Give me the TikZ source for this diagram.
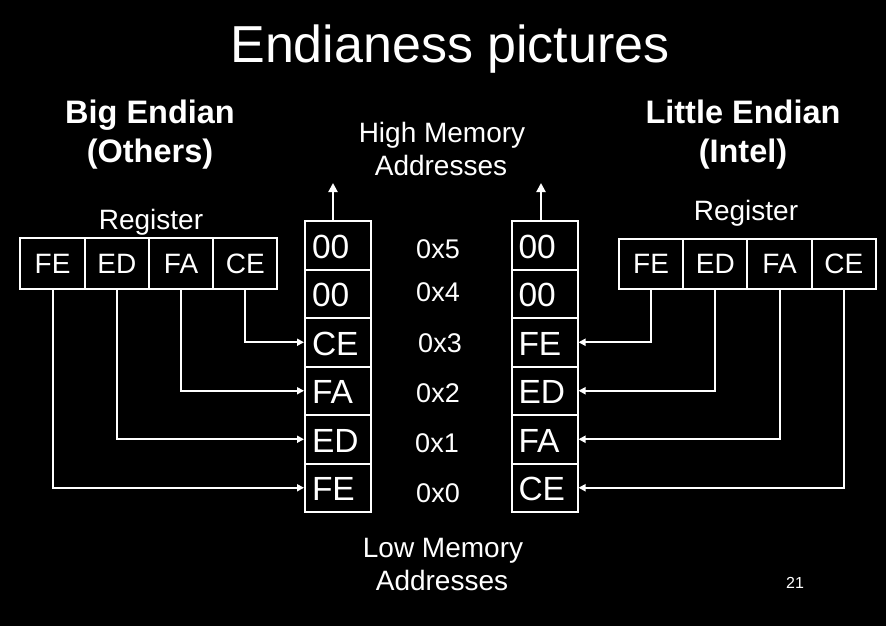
\documentclass[tikz,border=0pt]{standalone}
\usepackage{fontspec}
\setmainfont{Liberation Sans}
\usetikzlibrary{arrows.meta}
\newcommand{\memtxt}[1]{\makebox[52pt][l]{#1}}
\begin{document}
\begin{tikzpicture}[x=1pt,y=-1pt,
  every node/.style={text=white},
  wire/.style={draw=white,line width=2pt,-{Triangle[length=7pt,width=7pt]}},
  upwire/.style={draw=white,line width=2pt,-{Triangle[length=9pt,width=9pt]}},
  memcell/.style={draw=white,line width=2pt,minimum height=48.5pt,inner xsep=7pt,inner ysep=0pt,text height=26pt,text depth=0.5pt,font=\fontsize{33.5}{38}\selectfont},
  regcell/.style={draw=white,line width=2pt,minimum width=64.25pt,minimum height=50.5pt,inner sep=0pt,font=\fontsize{28}{30}\selectfont},
  addr/.style={anchor=base,font=\fontsize{27}{30}\selectfont},
  lbl/.style={anchor=base,font=\fontsize{28}{30}\selectfont},
  head/.style={anchor=base,font=\fontsize{32.5}{36}\selectfont\bfseries}]
\path[fill=black] (0,0) rectangle (886,626);
\useasboundingbox (0,0) rectangle (886,626);

% title
\node[anchor=base,font=\fontsize{52}{60}\selectfont] (title) at (450,63) {Endianess pictures};

% headings
\node[head] (bigA) at (150,123) {Big Endian};
\node[head] (bigB) at (150,162) {(Others)};
\node[head] (litA) at (743,123) {Little Endian};
\node[head] (litB) at (743,162) {(Intel)};

\node[lbl] (highA) at (442,142) {High Memory};
\node[lbl] (highB) at (441,175) {Addresses};
\node[lbl] (lowA) at (443,557) {Low Memory};
\node[lbl] (lowB) at (442,590) {Addresses};

\node[lbl] (regLt) at (151,229) {Register};
\node[lbl] (regRt) at (746,220) {Register};

\node[anchor=base,font=\fontsize{16}{18}\selectfont] (pg) at (795,588) {21};

% left register
\node[regcell] (L1) at (52.6,263.5) {FE};
\node[regcell] (L2) at (116.85,263.5) {ED};
\node[regcell] (L3) at (181.1,263.5) {FA};
\node[regcell] (L4) at (245.35,263.5) {CE};

% right register
\node[regcell] (R1) at (651.1,264) {FE};
\node[regcell] (R2) at (715.35,264) {ED};
\node[regcell] (R3) at (779.6,264) {FA};
\node[regcell] (R4) at (843.85,264) {CE};

% left memory
\node[memcell] (M5) at (338,245.25) {\memtxt{00}};
\node[memcell] (M4) at (338,293.75) {\memtxt{00}};
\node[memcell] (M3) at (338,342.25) {\memtxt{CE}};
\node[memcell] (M2) at (338,390.75) {\memtxt{FA}};
\node[memcell] (M1) at (338,439.25) {\memtxt{ED}};
\node[memcell] (M0) at (338,487.75) {\memtxt{FE}};

% right memory
\node[memcell] (N5) at (544.5,245.25) {\memtxt{00}};
\node[memcell] (N4) at (544.5,293.75) {\memtxt{00}};
\node[memcell] (N3) at (544.5,342.25) {\memtxt{FE}};
\node[memcell] (N2) at (544.5,390.75) {\memtxt{ED}};
\node[memcell] (N1) at (544.5,439.25) {\memtxt{FA}};
\node[memcell] (N0) at (544.5,487.75) {\memtxt{CE}};

% addresses
\node[addr] (a5) at (438,258) {0x5};
\node[addr] (a4) at (438,301) {0x4};
\node[addr] (a3) at (440,352) {0x3};
\node[addr] (a2) at (438,402) {0x2};
\node[addr] (a1) at (437,452) {0x1};
\node[addr] (a0) at (438,502) {0x0};

% up arrows
\coordinate (upL) at (333,183);
\coordinate (upR) at (541,183);
\draw[upwire] (M5.north -| upL) -- (upL);
\draw[upwire] (N5.north -| upR) -- (upR);

% big endian connectors
\draw[wire] (L1.south) |- (M0.west);
\draw[wire] (L2.south) |- (M1.west);
\draw[wire] (L3.south) |- (M2.west);
\draw[wire] (L4.south) |- (M3.west);

% little endian connectors
\draw[wire] (R1.south) |- (N3.east);
\draw[wire] (R2.south) |- (N2.east);
\draw[wire] (R3.south) |- (N1.east);
\draw[wire] (R4.south) |- (N0.east);
\end{tikzpicture}
\end{document}
